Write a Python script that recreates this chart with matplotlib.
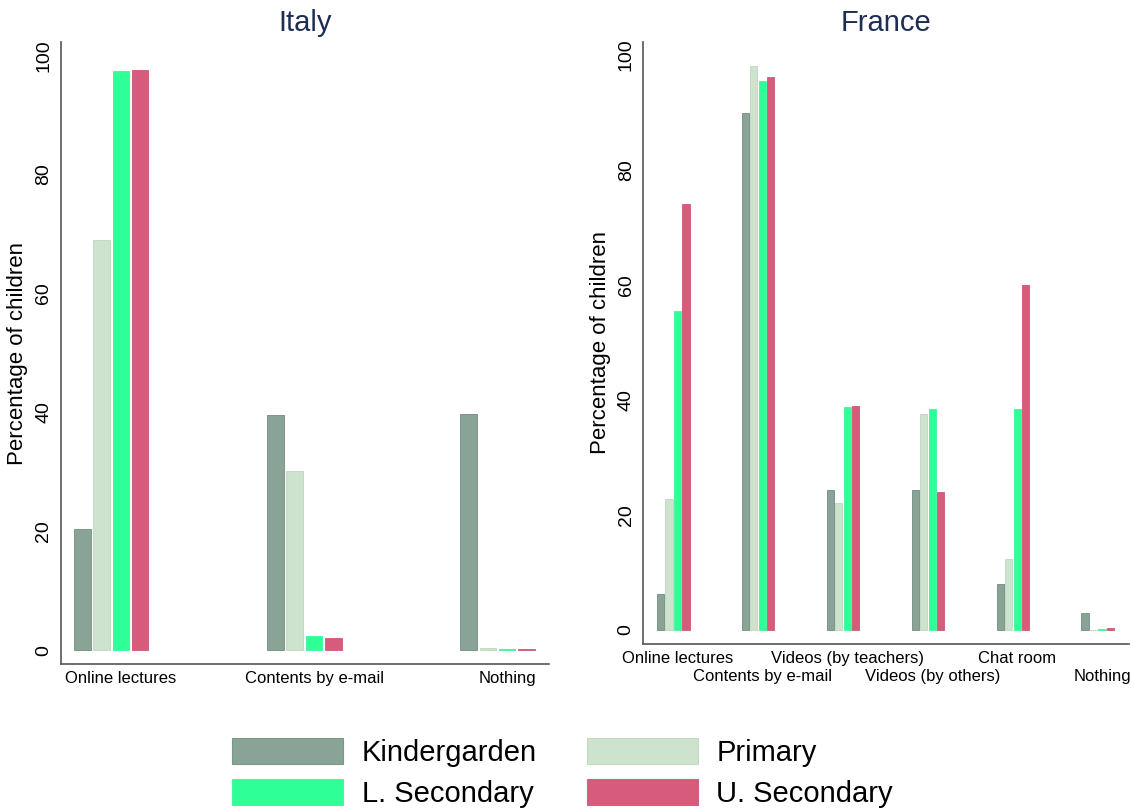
import numpy as np
import matplotlib
matplotlib.use("Agg")
from matplotlib import pyplot as plt
from matplotlib.patches import Patch

plt.rcParams['font.family'] = ['Liberation Sans', 'DejaVu Sans']

# data
levels = ["Kindergarden", "Primary", "L. Secondary", "U. Secondary"]
colors = ["#8aa397", "#cde3cd", "#2eff96", "#d75b7a"]
edges = ["#7d968a", "#c2dac2", "#4cf5a0", "#d0637f"]

italy_cats = ["Online lectures", "Contents by e-mail", "Nothing"]
italy_k = [20.4, 39.5, 39.7]
italy_p = [69.0, 30.2, 0.35]
italy_l = [97.3, 2.35, 0.2]
italy_u = [97.5, 2.1, 0.2]

france_cats = ["Online lectures", "Contents by e-mail", "Videos (by teachers)",
               "Videos (by others)", "Chat room", "Nothing"]
france_k = [6.2, 89.9, 24.3, 24.3, 8.0, 3.0]
france_p = [22.8, 98.0, 22.0, 37.5, 12.3, 0.0]
france_l = [55.4, 95.5, 38.7, 38.4, 38.4, 0.2]
france_u = [74.1, 96.1, 39.0, 24.0, 59.9, 0.4]

title_color = "#1e2d52"
step = 0.1
width = 0.086


def draw(ax, title, cats, series, ylim, xlim, stagger=False):
    x = np.arange(len(cats))
    for j, vals in enumerate(series):
        ax.bar(x + (j - 2) * step, vals, width, color=colors[j],
               edgecolor=edges[j], linewidth=0.7)
    ax.set_xlim(*xlim)
    ax.set_ylim(*ylim)
    ax.set_xticks(x)
    ax.set_xticklabels(cats, fontsize=12)
    ax.set_yticks([0, 20, 40, 60, 80, 100])
    ax.set_yticklabels(["0", "20", "40", "60", "80", "100"], fontsize=14,
                       rotation=90, va="center")
    ax.tick_params(axis="both", length=0)
    ax.tick_params(axis="x", pad=5)
    ax.tick_params(axis="y", pad=6)
    if stagger:
        for i, t in enumerate(ax.xaxis.get_major_ticks()):
            if i % 2 == 1:
                t.set_pad(18)
    ax.set_ylabel("Percentage of children", fontsize=16, labelpad=5)
    ax.set_title(title, fontsize=21, color=title_color, pad=8)
    for s in ["top", "right"]:
        ax.spines[s].set_visible(False)
    for s in ["left", "bottom"]:
        ax.spines[s].set_color("#555555")
        ax.spines[s].set_linewidth(1.2)


fig = plt.figure(figsize=(11.33, 8.10), dpi=100)
ax1 = fig.add_axes([0.0535, 0.180, 0.4308, 0.768])
ax2 = fig.add_axes([0.5675, 0.205, 0.429, 0.7436])

draw(ax1, "Italy", italy_cats, [italy_k, italy_p, italy_l, italy_u],
     (-2.35, 102.2), (-0.312, 2.215))
draw(ax2, "France", france_cats, [france_k, france_p, france_l, france_u],
     (-2.43, 102.3), (-0.405, 5.317), stagger=True)

handles = [Patch(facecolor=colors[i], edgecolor=edges[i], linewidth=0.8)
           for i in range(4)]
order = [0, 2, 1, 3]
fig.legend([handles[i] for i in order], [levels[i] for i in order],
           loc="center", bbox_to_anchor=(0.4966, 0.046), ncol=2,
           frameon=False, fontsize=21, handlelength=3.8, handleheight=1.0,
           handletextpad=0.65, columnspacing=1.7, labelspacing=0.4,
           borderpad=0)

fig.savefig("out.png", dpi=100)
